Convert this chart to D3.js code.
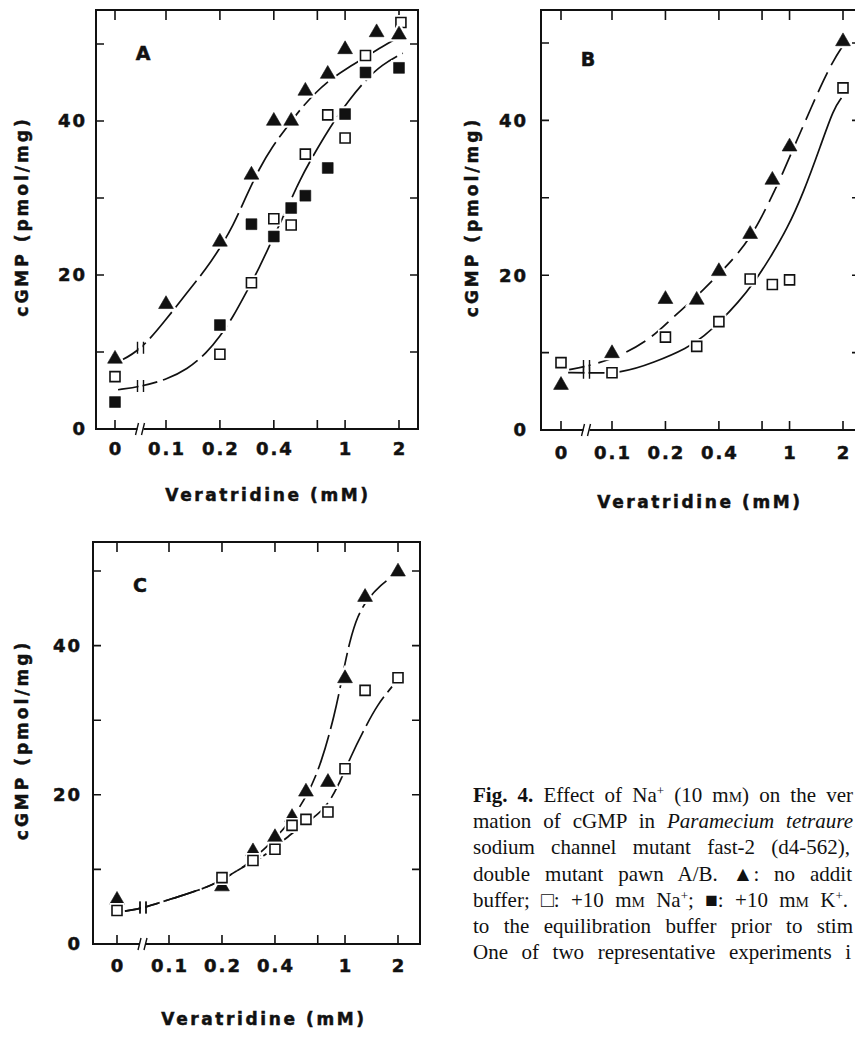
<!DOCTYPE html>
<html>
<head>
<meta charset="utf-8">
<script src="https://cdn.jsdelivr.net/npm/d3@7"></script>
<style>
  html, body { margin: 0; padding: 0; background: #fff; overflow: hidden; }
  svg { display: block; }
  .lab { font-family: "DejaVu Sans", sans-serif; font-weight: bold; fill: #111; stroke: #111; stroke-width: 0.5px; }
  .cap { font-family: "Liberation Serif", "Times New Roman", serif; font-size: 21px; fill: #111; }
</style>
</head>
<body>
<svg id="fig" width="855" height="1040"></svg>
<script>
// cGMP vs veratridine, three panels (A wild type, B fast-2, C pawn A/B)
// Broken log x axis: 0 sits left of a break, then 0.1 .. 2 mM on a log scale

(function () {
  "use strict";

  // --- Axis ticks ---
  var xTickValues = [0, 0.1, 0.2, 0.4, 0.7, 1, 2];
  var xTickLabels = ["0", "0.1", "0.2", "0.4", "", "1", "2"];
  var yTickValues = [10, 20, 30, 40, 50];
  var yLabelValues = [0, 20, 40];

  // --- Panel A (markers) ---
  var aTriX = [0, 0.1, 0.2, 0.3, 0.4, 0.5, 0.6, 0.8, 1, 1.5, 2];
  var aTriY = [9.1, 16.2, 24.3, 33, 40, 40, 43.9, 46.1, 49.3, 51.5, 51.2];
  var aOpenX = [0, 0.2, 0.3, 0.4, 0.5, 0.6, 0.8, 1, 1.3, 2.05];
  var aOpenY = [6.8, 9.7, 19, 27.3, 26.5, 35.7, 40.8, 37.8, 48.5, 52.8];
  var aFillX = [0, 0.2, 0.3, 0.4, 0.5, 0.6, 0.8, 1, 1.3, 2];
  var aFillY = [3.5, 13.5, 26.6, 25, 28.7, 30.3, 33.9, 40.9, 46.3, 46.9];
  // fitted curves, traced
  var aTriCurveX = [0.006, 0.05, 0.1, 0.131, 0.169, 0.2, 0.236, 0.28, 0.333, 0.39, 0.47, 0.556, 0.69, 0.85, 1.05, 1.3, 1.6, 2.0];
  var aTriCurveY = [8.7, 10.2, 14.2, 17.7, 20.9, 23.5, 26.3, 30.2, 33.9, 36.6, 39.1, 41.4, 43.8, 45.6, 47, 48.3, 49.6, 50.9];
  var aSqCurveX = [0.006, 0.05, 0.1, 0.131, 0.169, 0.2, 0.236, 0.28, 0.333, 0.39, 0.47, 0.556, 0.69, 0.85, 1.05, 1.3, 1.6, 2.1];
  var aSqCurveY = [5.1, 5.5, 6.4, 7.7, 9.9, 12, 14.5, 17.7, 21, 24.5, 28.4, 32.3, 36.2, 39.7, 42.7, 45.3, 47.3, 48.8];

  // --- Panel B ---
  var bTriX = [0, 0.1, 0.2, 0.3, 0.4, 0.6, 0.8, 1, 2];
  var bTriY = [5.8, 9.9, 16.9, 16.8, 20.5, 25.3, 32.3, 36.6, 50.2];
  var bOpenX = [0, 0.1, 0.2, 0.3, 0.4, 0.6, 0.8, 1, 2];
  var bOpenY = [8.7, 7.4, 12, 10.8, 14, 19.5, 18.8, 19.4, 44.2];
  var bTriCurveX = [0.016, 0.05, 0.112, 0.172, 0.214, 0.267, 0.33, 0.41, 0.51, 0.63, 0.75, 0.89, 1.01, 1.2, 1.5, 1.77, 1.98];
  var bTriCurveY = [7.8, 8.2, 9.5, 12.1, 14.3, 16.2, 18.2, 20.4, 22.7, 25.6, 29, 32.5, 35.5, 39.4, 44.5, 47.8, 49.5];
  var bSqCurveX = [0.014, 0.05, 0.112, 0.172, 0.267, 0.33, 0.41, 0.51, 0.63, 0.78, 0.97, 1.2, 1.5, 1.77, 1.96];
  var bSqCurveY = [7.4, 7.4, 7.3, 8.7, 10.6, 12.1, 14.1, 16.4, 19, 22.3, 26, 30.7, 36.8, 41.5, 42.9];

  // --- Panel C ---
  var cTriX = [0, 0.2, 0.3, 0.4, 0.5, 0.6, 0.8, 1, 1.3, 2];
  var cTriY = [5.9, 7.7, 12.4, 14.3, 17, 20.4, 21.7, 35.6, 46.5, 49.9];
  var cOpenX = [0, 0.2, 0.3, 0.4, 0.5, 0.6, 0.8, 1, 1.3, 2];
  var cOpenY = [4.5, 8.9, 11.2, 12.7, 15.9, 16.7, 17.7, 23.5, 34, 35.7];
  var cTriCurveX = [0.015, 0.05, 0.104, 0.148, 0.192, 0.227, 0.272, 0.322, 0.4, 0.495, 0.617, 0.73, 0.876, 0.97, 1.06, 1.18, 1.35, 1.59, 1.91];
  var cTriCurveY = [4.4, 4.8, 6.1, 7.2, 8.3, 9.4, 10.5, 12, 14.1, 16.6, 20.1, 24.1, 30.8, 36.1, 40.5, 44.1, 46.3, 48.1, 49.5];
  var cSqCurveX = [0.015, 0.05, 0.104, 0.148, 0.192, 0.227, 0.272, 0.322, 0.4, 0.495, 0.617, 0.77, 0.91, 1.08, 1.3, 1.53, 1.85];
  var cSqCurveY = [4.4, 4.8, 6.1, 7.2, 8.3, 9.4, 10.5, 11.3, 12.9, 14.8, 16.4, 18.1, 21, 25.2, 29, 32.1, 34.5];

  // --- Caption: only the part visible in the scan (page is cut at the right) ---
  var captionLines = [
    [["Fig. 4.", "b"], [" Effect of Na", ""], ["+", "sup"], [" (10 m", ""], ["M", "sc"], [") on the ver", ""]],
    [["mation of cGMP in ", ""], ["Paramecium tetraure", "i"]],
    [["sodium channel mutant fast-2 (d4-562),", ""]],
    [["double mutant pawn A/B. \u25B2: no addit", ""]],
    [["buffer; \u25A1: +10 m", ""], ["M", "sc"], [" Na", ""], ["+", "sup"], ["; \u25A0: +10 m", ""], ["M", "sc"], [" K", ""], ["+", "sup"], [".", ""]],
    [["to the equilibration buffer prior to stim", ""]],
    [["One of two representative experiments i", ""]]
  ];
  var captionRight = [853, 853, 850, 852, 848, 853, 851];

  function zip(xs, ys) {
    return xs.map(function (x, i) { return [x, ys[i]]; });
  }

  // --- Layout per panel ---
  var PANELS = [
    {
      letter: "A", left: 96, top: 10, right: 418, zeroX: 115, x01: 166, x2: 399, y0: 429, y50: 44,
      yLabGap: 9, yTitleX: 22, xTitleX: 268, xTitleY: 495, tickLabY: 449, letterX: 143, letterY: 53,
      curves: [
        { pts: zip(aTriCurveX, aTriCurveY), dash: "34,6" },
        { pts: zip(aSqCurveX, aSqCurveY), dash: "40,6" }
      ],
      marks: [
        { pts: zip(aFillX, aFillY), kind: "fill" },
        { pts: zip(aOpenX, aOpenY), kind: "open" },
        { pts: zip(aTriX, aTriY), kind: "tri" }
      ]
    },
    {
      letter: "B", left: 541, top: 10, right: 860, zeroX: 561, x01: 612, x2: 843, y0: 430, y50: 43,
      yLabGap: 13, yTitleX: 472, xTitleX: 700, xTitleY: 502, tickLabY: 453, letterX: 588, letterY: 59,
      curves: [
        { pts: zip(bTriCurveX, bTriCurveY), dash: "22,8" },
        { pts: zip(bSqCurveX, bSqCurveY), dash: null }
      ],
      marks: [
        { pts: zip(bOpenX, bOpenY), kind: "open" },
        { pts: zip(bTriX, bTriY), kind: "tri" }
      ]
    },
    {
      letter: "C", left: 93, top: 542, right: 420, zeroX: 117, x01: 169, x2: 398, y0: 944, y50: 571,
      yLabGap: 11, yTitleX: 22, xTitleX: 264, xTitleY: 1019, tickLabY: 966, letterX: 140, letterY: 585,
      curves: [
        { pts: zip(cTriCurveX, cTriCurveY), dash: "36,6" },
        { pts: zip(cSqCurveX, cSqCurveY), dash: "34,6" }
      ],
      marks: [
        { pts: zip(cTriX, cTriY), kind: "tri" },
        { pts: zip(cOpenX, cOpenY), kind: "open" }
      ]
    }
  ];

  var svg = d3.select("#fig");
  var INK = "#111";

  var SYMBOLS = {
    tri: d3.symbol().type(d3.symbolTriangle).size(95),
    open: d3.symbol().type(d3.symbolSquare).size(100),
    fill: d3.symbol().type(d3.symbolSquare).size(118)
  };

  // piecewise x: linear 0..0.1 across the break, log from 0.1 up
  function makeX(p) {
    var log = d3.scaleLog().domain([0.1, 2]).range([p.x01, p.x2]);
    var lin = d3.scaleLinear().domain([0, 0.1]).range([p.zeroX, p.x01]);
    return function (v) { return v >= 0.1 ? log(v) : lin(v); };
  }

  // y of a rendered path at a given x (bisect along its length)
  function pathYAt(node, tx) {
    var lo = 0, hi = node.getTotalLength();
    for (var k = 0; k < 30; k++) {
      var mid = (lo + hi) / 2;
      if (node.getPointAtLength(mid).x < tx) lo = mid; else hi = mid;
    }
    return node.getPointAtLength(lo).y;
  }

  function drawPanel(p) {
    var x = makeX(p);
    var y = d3.scaleLinear().domain([0, 50]).range([p.y0, p.y50]);
    var g = svg.append("g");

    // frame
    g.append("rect")
      .attr("x", p.left).attr("y", p.top)
      .attr("width", p.right - p.left).attr("height", p.y0 - p.top)
      .attr("fill", "none").attr("stroke", INK).attr("stroke-width", 2);

    // y ticks, both sides, pointing in
    g.selectAll(".yt").data(yTickValues).enter().append("path")
      .attr("d", function (v) {
        var yy = y(v);
        return "M" + p.left + "," + yy + "h8M" + p.right + "," + yy + "h-8";
      })
      .attr("stroke", INK).attr("stroke-width", 1.6);

    // x ticks top + bottom
    g.selectAll(".xt").data(xTickValues).enter().append("path")
      .attr("d", function (v) {
        var xx = x(v);
        return "M" + xx + "," + p.y0 + "v-9M" + xx + "," + p.top + "v10";
      })
      .attr("stroke", INK).attr("stroke-width", 1.6);

    // axis break on the bottom line
    var bx = x(0.05);
    g.append("rect").attr("x", bx - 3).attr("y", p.y0 - 3).attr("width", 6).attr("height", 6).attr("fill", "#fff");
    g.append("path")
      .attr("d", "M" + (bx - 5) + "," + (p.y0 + 6) + "L" + (bx - 2) + "," + (p.y0 - 6) +
        "M" + (bx + 1) + "," + (p.y0 + 6) + "L" + (bx + 4) + "," + (p.y0 - 6))
      .attr("stroke", INK).attr("stroke-width", 1.4).attr("fill", "none");

    // curves
    var line = d3.line()
      .x(function (d) { return x(d[0]); })
      .y(function (d) { return y(d[1]); })
      .curve(d3.curveBasis);

    p.curves.forEach(function (c) {
      var path = g.append("path")
        .attr("d", line(c.pts))
        .attr("fill", "none").attr("stroke", INK).attr("stroke-width", 1.7)
        .attr("stroke-dasharray", c.dash);
      // break marks across the curve
      var cy = pathYAt(path.node(), bx);
      g.append("rect").attr("x", bx - 2).attr("y", cy - 3).attr("width", 4).attr("height", 6).attr("fill", "#fff");
      g.append("path")
        .attr("d", "M" + (bx - 3) + "," + (cy - 6) + "v12M" + (bx + 3) + "," + (cy - 6) + "v12")
        .attr("stroke", INK).attr("stroke-width", 1.4);
    });

    // markers (white halo first so curves break around them)
    p.marks.forEach(function (m) {
      var sel = g.selectAll(null).data(m.pts).enter();
      sel.append("path")
        .attr("d", SYMBOLS[m.kind])
        .attr("transform", function (d) { return "translate(" + x(d[0]) + "," + y(d[1]) + ")"; })
        .attr("fill", "#fff").attr("stroke", "#fff").attr("stroke-width", 5);
      sel.append("path")
        .attr("d", SYMBOLS[m.kind])
        .attr("transform", function (d) { return "translate(" + x(d[0]) + "," + y(d[1]) + ")"; })
        .attr("fill", m.kind === "open" ? "#fff" : INK)
        .attr("stroke", INK)
        .attr("stroke-width", m.kind === "open" ? 1.6 : 0.6);
    });

    // tick labels
    g.selectAll(".yl").data(yLabelValues).enter().append("text")
      .attr("class", "lab")
      .attr("x", p.left - p.yLabGap).attr("y", function (v) { return y(v); })
      .attr("dy", "0.36em").attr("text-anchor", "end")
      .style("font-size", "18px").style("letter-spacing", "2px")
      .text(function (v) { return v; });

    g.selectAll(".xl").data(xTickValues).enter().append("text")
      .attr("class", "lab")
      .attr("x", function (v) { return x(v) + 1; }).attr("y", p.tickLabY)
      .attr("dy", "0.36em").attr("text-anchor", "middle")
      .style("font-size", "18px").style("letter-spacing", "2px")
      .text(function (v, i) { return xTickLabels[i]; });

    // panel letter
    g.append("text").attr("class", "lab")
      .attr("x", p.letterX).attr("y", p.letterY).attr("dy", "0.36em")
      .attr("text-anchor", "middle").style("font-size", "19px")
      .text(p.letter);

    // axis titles
    g.append("text").attr("class", "lab")
      .attr("transform", "translate(" + p.yTitleX + "," + ((p.top + p.y0) / 2 - 3) + ") rotate(-90)")
      .attr("dy", "0.36em").attr("text-anchor", "middle")
      .style("font-size", "17px").style("letter-spacing", "3px")
      .text("cGMP (pmol/mg)");

    g.append("text").attr("class", "lab")
      .attr("x", p.xTitleX).attr("y", p.xTitleY)
      .attr("dy", "0.36em").attr("text-anchor", "middle")
      .style("font-size", "17px").style("letter-spacing", "2.6px")
      .text("Veratridine (mM)");
  }

  PANELS.forEach(drawPanel);

  // --- Caption, justified to the visible right edge ---
  var capLeft = 473;
  var cap = svg.append("g");
  captionLines.forEach(function (segs, i) {
    var t = cap.append("text").attr("class", "cap")
      .attr("x", capLeft).attr("y", 802 + i * 26.2);
    var spaces = 0;
    segs.forEach(function (s) {
      var ts = t.append("tspan").text(s[0]);
      spaces += (s[0].match(/ /g) || []).length;
      if (s[1] === "b") ts.style("font-weight", "bold");
      if (s[1] === "i") ts.style("font-style", "italic");
      if (s[1] === "sc") ts.style("font-size", "15px");
      if (s[1] === "sup") ts.style("font-size", "13px").attr("baseline-shift", "super");
    });
    var natural = t.node().getComputedTextLength();
    var extra = (captionRight[i] - capLeft - natural) / Math.max(spaces, 1);
    t.style("word-spacing", Math.max(extra, 0) + "px");
  });
})();
</script>
</body>
</html>
